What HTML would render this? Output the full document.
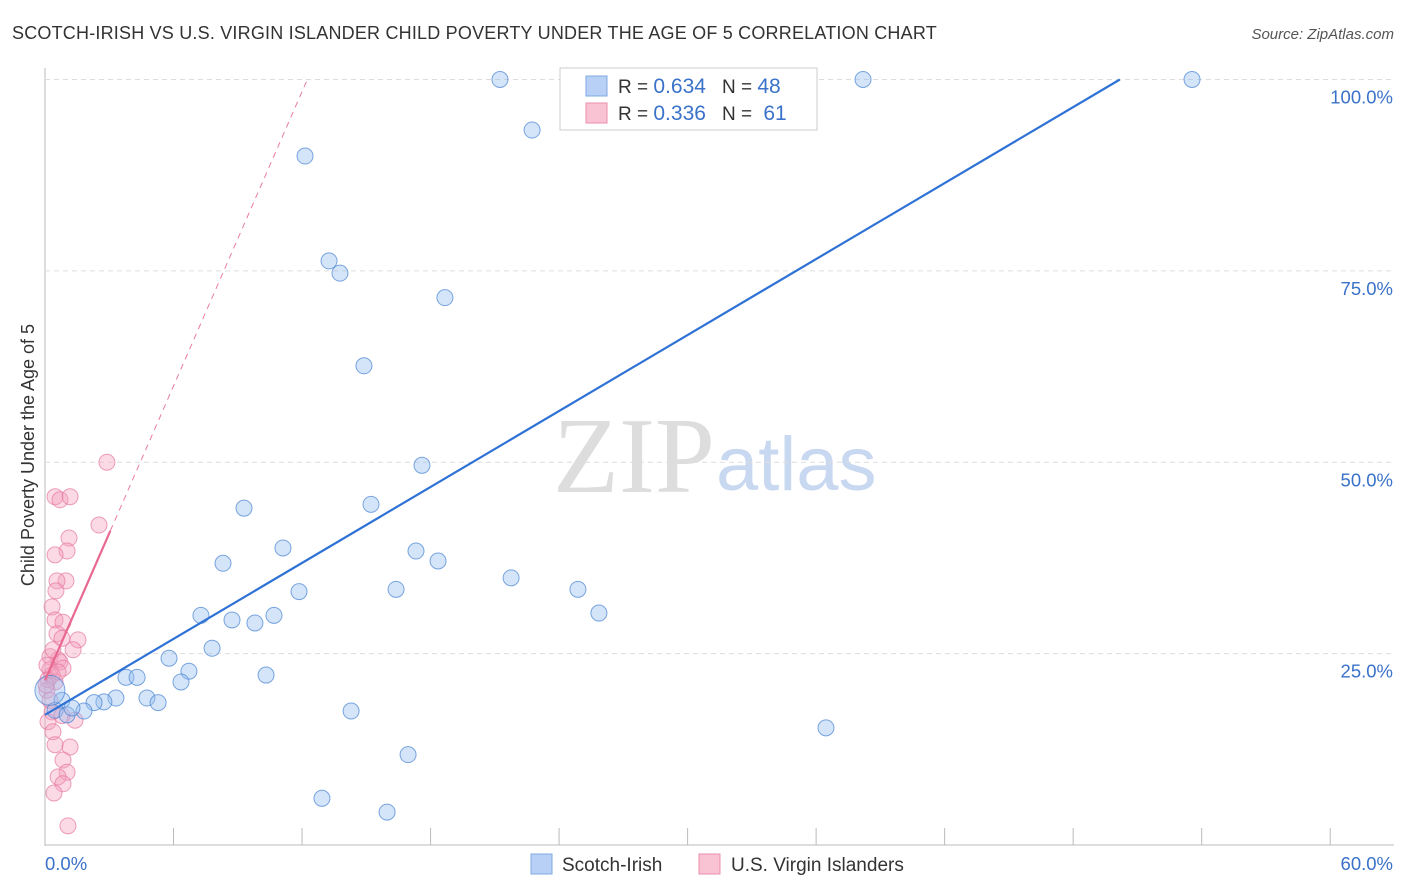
<!DOCTYPE html>
<html><head><meta charset="utf-8"><style>
body{margin:0;background:#fff;font-family:"Liberation Sans",sans-serif;}
#wrap{position:relative;width:1406px;height:892px;overflow:hidden;}
</style></head><body>
<div id="wrap">
<svg id="svg" width="1406" height="892" xmlns="http://www.w3.org/2000/svg">
<text x="12" y="39" font-size="18" letter-spacing="0.2" fill="#333">SCOTCH-IRISH VS U.S. VIRGIN ISLANDER CHILD POVERTY UNDER THE AGE OF 5 CORRELATION CHART</text>
<text x="1394" y="39" font-size="15" font-style="italic" fill="#555" text-anchor="end">Source: ZipAtlas.com</text>
<text x="0" y="0" transform="translate(34,455) rotate(-90)" font-size="18" fill="#333" text-anchor="middle">Child Poverty Under the Age of 5</text>
<text x="553" y="492" font-size="108" font-family="Liberation Serif,serif" fill="#ddd">ZIP</text>
<text x="716" y="490" font-size="76" fill="#c8d8f0">atlas</text>
<g id="grid"></g><g id="pts"></g><g id="lines"></g>
<g>
<rect x="560" y="68" width="257" height="62" fill="#fff" stroke="#ccc"/>
<rect x="586" y="76" width="21" height="20" fill="#b8d0f5" stroke="#7fa8e0"/>
<rect x="586" y="103" width="21" height="20" fill="#f9c3d3" stroke="#eb8fae"/>
<text x="618" y="93" font-size="19" fill="#333">R = <tspan fill="#3a72c9" font-size="21">0.634</tspan><tspan dx="16">N = </tspan><tspan fill="#3a72c9" font-size="21">48</tspan></text>
<text x="618" y="120" font-size="19" fill="#333">R = <tspan fill="#3a72c9" font-size="21">0.336</tspan><tspan dx="16">N = </tspan><tspan fill="#3a72c9" font-size="21" dx="6">61</tspan></text>
</g>
<g>
<rect x="531" y="854" width="21" height="20" fill="#b8d0f5" stroke="#7fa8e0"/>
<text x="562" y="871" font-size="19" fill="#333">Scotch-Irish</text>
<rect x="699" y="854" width="21" height="20" fill="#f9c3d3" stroke="#eb8fae"/>
<text x="731" y="871" font-size="19" fill="#333">U.S. Virgin Islanders</text>
</g>
</svg></div>
<script>
const yTicks=[25,50,75,100];
const yTickLabels=["25.0%","50.0%","75.0%","100.0%"];
const xTickCount=10;
const xLabels=["0.0%","60.0%"];
const blueX=[21.24,38.19,53.55,22.74,12.14,13.26,13.77,18.67,14.89,17.6,9.29,15.22,11.11,17.32,18.35,8.31,21.76,24.88,16.39,11.86,7.28,10.69,8.73,9.80,25.86,7.80,5.79,6.72,6.35,10.32,3.78,4.30,3.31,2.75,4.76,5.28,2.29,1.82,0.79,0.47,1.03,14.29,36.46,16.95,12.93,15.97,0.23,1.26];
const blueY=[100,100,100,93.4,90.0,76.3,74.7,71.5,62.6,49.6,44.0,44.5,38.8,38.4,37.1,36.8,34.9,33.4,33.4,33.1,30.0,30.0,29.4,29.0,30.3,25.7,24.4,22.7,21.3,22.2,21.9,21.9,19.2,18.7,19.2,18.6,18.6,17.5,18.9,17.6,17.0,17.5,15.3,11.8,6.1,4.3,20.2,17.9];
const pinkX=[2.89,0.47,0.70,1.17,2.52,1.12,1.03,0.47,0.98,0.56,0.51,0.33,0.47,0.84,0.56,0.79,1.54,1.31,0.61,0.23,0.70,0.84,0.23,0.33,0.14,0.47,0.09,0.23,0.33,0.79,1.40,0.14,0.37,0.47,1.17,0.84,1.03,0.61,0.84,0.42,1.07,0.09,0.05,0.61,0.37];
const pinkY=[50.0,45.5,45.1,45.5,41.8,40.1,38.4,37.9,34.5,34.5,33.2,31.1,29.4,29.1,27.6,27.0,26.8,25.5,24.2,24.6,23.9,23.1,22.9,22.2,21.6,21.3,20.2,18.9,17.4,16.9,16.3,16.1,14.8,13.1,12.8,11.1,9.5,8.9,8.0,6.8,2.5,23.5,20.9,22.6,25.5];
const blueFit=[17.0,1.654];
const pinkFit=[21.5,6.41];
const X=v=>45+v*21.42, Y=v=>845-v*7.655;
const NS="http://www.w3.org/2000/svg";
function mk(tag,attrs,parent){const e=document.createElementNS(NS,tag);for(const k in attrs)e.setAttribute(k,attrs[k]);document.getElementById(parent).appendChild(e);return e;}
const axL=mk('line',{x1:45,y1:68,x2:45,y2:846,stroke:'#bbb'},'grid');


const axB=mk('line',{x1:45,y1:845,x2:1394,y2:845,stroke:'#bbb'},'grid');


yTicks.forEach((t,i)=>{
 const g=mk('line',{x1:45,y1:Y(t),x2:1394,y2:Y(t),stroke:'#ddd','stroke-dasharray':'5,4'},'grid');
 
 
 const l=mk('text',{x:1393,y:Y(t)+24,'font-size':18.5,fill:'#3a72c9','text-anchor':'end'},'grid');
 l.textContent=yTickLabels[i];
 
 
});
for(let i=1;i<=xTickCount;i++){
 const xx=X(i*6);
 const t=mk('line',{x1:xx,y1:828,x2:xx,y2:845,stroke:'#bbb'},'grid');
 
 
}
const xl0=mk('text',{x:45,y:870,'font-size':18.5,fill:'#3a72c9'},'grid');xl0.textContent=xLabels[0];


const xl1=mk('text',{x:1393,y:870,'font-size':18.5,fill:'#3a72c9','text-anchor':'end'},'grid');xl1.textContent=xLabels[1];


pinkX.forEach((v,i)=>{
 const c=mk('circle',{cx:X(v),cy:Y(pinkY[i]),r:8,fill:'rgba(245,160,190,0.4)',stroke:'rgba(230,120,160,0.7)'},'pts');
 
 
});
blueX.forEach((v,i)=>{
 const c=mk('circle',{cx:X(v),cy:Y(blueY[i]),r:i==46?15:8,fill:'rgba(150,190,240,0.4)',stroke:'rgba(70,130,210,0.7)'},'pts');
 
 
});
const bx2=(100-blueFit[0])/blueFit[1];
const bl=mk('line',{x1:X(0),y1:Y(blueFit[0]),x2:X(bx2),y2:Y(100),stroke:'#2f72d6','stroke-width':2.2},'lines');


const px2=(100-pinkFit[0])/pinkFit[1];
const pd=mk('line',{x1:X(3.05),y1:Y(pinkFit[0]+3.05*pinkFit[1]),x2:X(px2),y2:Y(100),stroke:'#e87ca0','stroke-width':1,'stroke-dasharray':'6,5'},'lines');


const pl=mk('line',{x1:X(0),y1:Y(pinkFit[0]),x2:X(3.05),y2:Y(pinkFit[0]+3.05*pinkFit[1]),stroke:'#e86890','stroke-width':2.2},'lines');


</script>
</body></html>
